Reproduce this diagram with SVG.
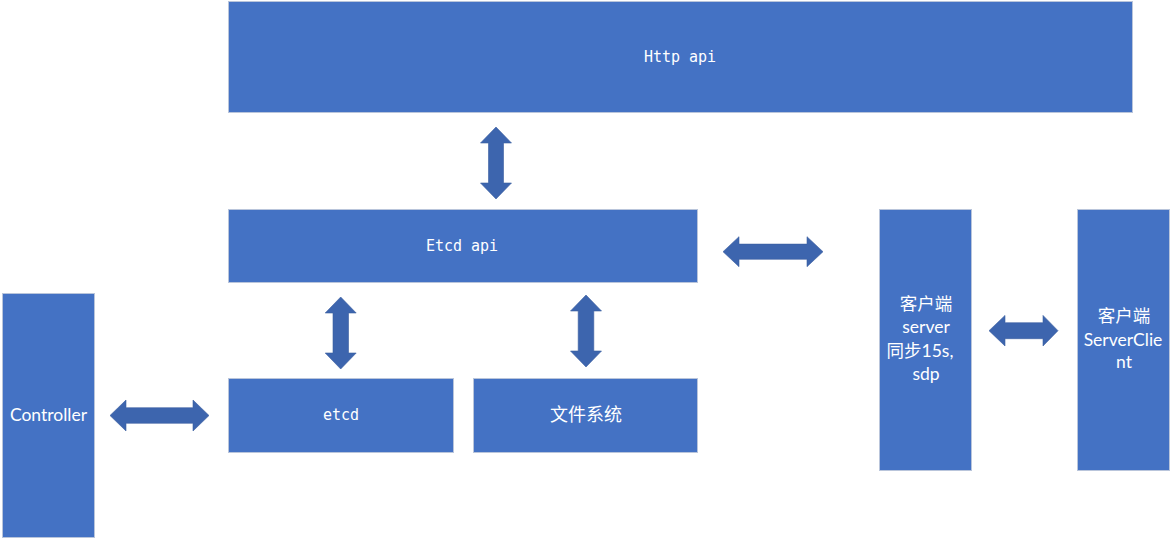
<svg xmlns="http://www.w3.org/2000/svg" width="1172" height="539" viewBox="0 0 1172 539">
<style>
.box{fill:#4472C4;stroke:#B9C5DB;stroke-width:1}
.arrow{fill:#3D65AE;stroke:#3A5E9F;stroke-width:0.6}
.mono{font-family:"DejaVu Sans Mono","Liberation Mono",monospace;font-size:15px;fill:#fff;text-anchor:middle}
.sans{font-family:Lato,"Noto Sans CJK SC",sans-serif;font-size:17.5px;fill:#fff;text-anchor:middle}
.cjk{font-family:"Noto Sans CJK SC",sans-serif;font-size:18px;fill:#fff;text-anchor:middle}
</style>
<rect width="1172" height="539" fill="#fff"/>
<g id="http-api"><rect class="box" x="228.5" y="1.5" width="904" height="111"/><text class="mono" x="680" y="62">Http api</text></g>
<g id="etcd-api"><rect class="box" x="228.5" y="209.5" width="469" height="73"/><text class="mono" x="462" y="251">Etcd api</text></g>
<g id="etcd"><rect class="box" x="228.5" y="378.5" width="225" height="74"/><text class="mono" x="341" y="420">etcd</text></g>
<g id="fs"><rect class="box" x="473.5" y="378.5" width="224" height="74"/><text class="cjk" x="586" y="421">文件系统</text></g>
<g id="controller"><rect class="box" x="2.5" y="293.5" width="92" height="244"/><text class="sans" x="48.5" y="421">Controller</text></g>
<g id="client-server"><rect class="box" x="879.5" y="209.5" width="92" height="261"/>
<text class="sans" x="926" y="310">客户端</text>
<text class="sans" x="926" y="333">server</text>
<text class="sans" x="920" y="357">同步15s,</text>
<text class="sans" x="926" y="380">sdp</text></g>
<g id="server-client"><rect class="box" x="1077.5" y="209.5" width="92" height="261"/>
<text class="sans" x="1124" y="322">客户端</text>
<text class="sans" x="1123" y="346">ServerClie</text>
<text class="sans" x="1124" y="368">nt</text></g>
<g id="connectors">
<polygon class="arrow" points="496,127 511.5,143 503.5,143 503.5,183 511.5,183 496,199 480.5,183 488.5,183 488.5,143 480.5,143"/>
<polygon class="arrow" points="340.7,297 356.2,313 348.5,313 348.5,353 356.2,353 340.7,369 325.2,353 333,353 333,313 325.2,313"/>
<polygon class="arrow" points="586,295 601.5,311 593.8,311 593.8,351 601.5,351 586,367 570.5,351 578.2,351 578.2,311 570.5,311"/>
<polygon class="arrow" points="723,251.7 739,236.7 739,244.1 807,244.1 807,236.7 823,251.7 807,266.7 807,259.3 739,259.3 739,266.7"/>
<polygon class="arrow" points="110,415.5 126,400 126,407.7 193,407.7 193,400 209,415.5 193,431 193,423.3 126,423.3 126,431"/>
<polygon class="arrow" points="989,330.7 1005,315.4 1005,322.7 1043,322.7 1043,315.4 1058,330.7 1043,346 1043,338.7 1005,338.7 1005,346"/>
</g>
</svg>
